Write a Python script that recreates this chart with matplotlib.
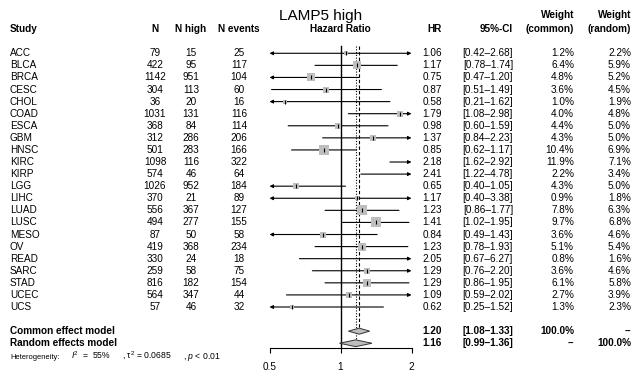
import numpy as np
import matplotlib
matplotlib.use("Agg")
import matplotlib.pyplot as plt
from matplotlib.patches import Polygon
from matplotlib.ticker import NullLocator
from matplotlib.transforms import blended_transform_factory

plt.rcParams["font.family"] = ["Liberation Sans", "DejaVu Sans"]
plt.rcParams["mathtext.fontset"] = "custom"
plt.rcParams["mathtext.rm"] = "Liberation Sans"
plt.rcParams["mathtext.it"] = "Liberation Sans:italic"

# --- dados ---
studies = ["ACC", "BLCA", "BRCA", "CESC", "CHOL", "COAD", "ESCA", "GBM", "HNSC", "KIRC", "KIRP",
           "LGG", "LIHC", "LUAD", "LUSC", "MESO", "OV", "READ", "SARC", "STAD", "UCEC", "UCS"]
n_total = [79, 422, 1142, 304, 36, 1031, 368, 312, 501, 1098, 574,
           1026, 370, 556, 494, 87, 419, 330, 259, 816, 564, 57]
n_high = [15, 95, 951, 113, 20, 131, 84, 286, 283, 116, 46,
          952, 21, 367, 277, 50, 368, 24, 58, 182, 347, 46]
n_events = [25, 117, 104, 60, 16, 116, 114, 206, 166, 322, 64,
            184, 89, 127, 155, 58, 234, 18, 75, 154, 44, 32]
hr = [1.06, 1.17, 0.75, 0.87, 0.58, 1.79, 0.98, 1.37, 0.85, 2.18, 2.41,
      0.65, 1.17, 1.23, 1.41, 0.84, 1.23, 2.05, 1.29, 1.29, 1.09, 0.62]
ci_low = [0.42, 0.78, 0.47, 0.51, 0.21, 1.08, 0.60, 0.84, 0.62, 1.62, 1.22,
          0.40, 0.40, 0.86, 1.02, 0.49, 0.78, 0.67, 0.76, 0.86, 0.59, 0.25]
ci_high = [2.68, 1.74, 1.20, 1.49, 1.62, 2.98, 1.59, 2.23, 1.17, 2.92, 4.78,
           1.05, 3.38, 1.77, 1.95, 1.43, 1.93, 6.27, 2.20, 1.95, 2.02, 1.52]
w_common = [1.2, 6.4, 4.8, 3.6, 1.0, 4.0, 4.4, 4.3, 10.4, 11.9, 2.2,
            4.3, 0.9, 7.8, 9.7, 3.6, 5.1, 0.8, 3.6, 6.1, 2.7, 1.3]
w_random = [2.2, 5.9, 5.2, 4.5, 1.9, 4.8, 5.0, 5.0, 6.9, 7.1, 3.4,
            5.0, 1.8, 6.3, 6.8, 4.6, 5.4, 1.6, 4.6, 5.8, 3.9, 2.3]

common_est, common_lo, common_hi = 1.20, 1.08, 1.33
random_est, random_lo, random_hi = 1.16, 0.99, 1.36
het_label = "Heterogeneity:"
het_parts = [r"$I^2$  =  55%", r", τ$^2$ = 0.0685", r", $p$ < 0.01"]

x_ticks = [0.5, 1, 2]
x_tick_labels = ["0.5", "1", "2"]

# --- layout ---
W, H = 634, 372
XMIN, XMAX = 0.5, 2
FS = 7.2
CINZA = "#bebebe"

fig = plt.figure(figsize=(W / 100, H / 100), dpi=100)
ax = fig.add_axes([269.5 / W, 0, 142 / W, 1])
ax.set_xscale("log")
ax.set_xlim(XMIN, XMAX)
ax.set_ylim(26.38, -4.41)
ax.patch.set_alpha(0)
for s in ["top", "right", "left"]:
    ax.spines[s].set_visible(False)
ax.set_yticks([])

n = len(studies)
rows = np.arange(n)
row_common = n + 1
row_random = n + 2
row_het = n + 3
row_axis = n + 2.42

# eixo inferior
ax.spines["bottom"].set_position(("data", row_axis))
ax.spines["bottom"].set_bounds(XMIN, XMAX)
ax.spines["bottom"].set_linewidth(0.8)
ax.set_xticks(x_ticks, labels=x_tick_labels)
ax.xaxis.set_minor_locator(NullLocator())
ax.tick_params(axis="x", direction="out", length=3.6, width=0.8, pad=6.5, labelsize=FS)

# linhas verticais de referência
top = -0.6
ax.plot([1, 1], [top, row_axis], color="black", lw=1.0, zorder=1)
ax.plot([common_est] * 2, [top, row_common - 0.25], color="black", lw=0.8,
        ls=(0, (3, 2)), zorder=1)
ax.plot([random_est] * 2, [top, row_random - 0.28], color="black", lw=0.8,
        ls=(0, (1, 1.5)), zorder=1)

# intervalos de confiança, quadrados
for i in range(n):
    y = rows[i]
    lo = max(ci_low[i], XMIN)
    hi = min(ci_high[i], XMAX)
    left_cut = ci_low[i] < XMIN
    right_cut = ci_high[i] > XMAX
    if left_cut and right_cut:
        style = "<|-|>"
    elif left_cut:
        style = "<|-"
    elif right_cut:
        style = "-|>"
    else:
        style = "-"
    ax.annotate("", xy=(hi, y), xytext=(lo, y),
                arrowprops=dict(arrowstyle=style, color="black", lw=0.8,
                                mutation_scale=5, shrinkA=0, shrinkB=0))
    if XMIN <= hr[i] <= XMAX:
        side_pt = 3.3 * np.sqrt(w_common[i]) * 0.72
        ax.scatter([hr[i]], [y], marker="s", s=side_pt ** 2, color=CINZA,
                   linewidths=0, zorder=3)
        ax.plot([hr[i]], [y], marker="|", ms=2.5, mew=0.8, color="black", zorder=4)

# losangos
for est, lo, hi, y, h in [(common_est, common_lo, common_hi, row_common, 0.25),
                          (random_est, random_lo, random_hi, row_random, 0.28)]:
    ax.add_patch(Polygon([(lo, y), (est, y - h), (hi, y), (est, y + h)], closed=True,
                         facecolor=CINZA, edgecolor="#333333", lw=0.7, zorder=3))

# --- colunas de texto ---
tr = blended_transform_factory(fig.transFigure, ax.transData)


def txt(x, y, s, ha="left", bold=False, size=FS, va="center"):
    ax.text(x / W, y, s, transform=tr, ha=ha, va=va, fontsize=size,
            fontweight="bold" if bold else "normal")


hdr = -2
txt(10, hdr, "Study", bold=True)
txt(155, hdr, "N", ha="center", bold=True)
txt(191, hdr, "N high", ha="center", bold=True)
txt(239, hdr, "N events", ha="center", bold=True)
txt(340.5, hdr, "Hazard Ratio", ha="center", bold=True)
txt(442, hdr, "HR", ha="right", bold=True)
txt(513, hdr, "95%-CI", ha="right", bold=True)
txt(574, hdr - 1.15, "Weight", ha="right", bold=True)
txt(574, hdr, "(common)", ha="right", bold=True)
txt(631, hdr - 1.15, "Weight", ha="right", bold=True)
txt(631, hdr, "(random)", ha="right", bold=True)
txt(321, -3.05, "LAMP5 high", ha="center", size=11)

for i in range(n):
    y = rows[i]
    txt(10, y, studies[i])
    txt(155, y, str(n_total[i]), ha="center")
    txt(191, y, str(n_high[i]), ha="center")
    txt(239, y, str(n_events[i]), ha="center")
    txt(442, y, f"{hr[i]:.2f}", ha="right")
    txt(513, y, f"[{ci_low[i]:.2f}–{ci_high[i]:.2f}]", ha="right")
    txt(574, y, f"{w_common[i]:.1f}%", ha="right")
    txt(631, y, f"{w_random[i]:.1f}%", ha="right")

txt(10, row_common, "Common effect model", bold=True)
txt(442, row_common, f"{common_est:.2f}", ha="right", bold=True)
txt(513, row_common, f"[{common_lo:.2f}–{common_hi:.2f}]", ha="right", bold=True)
txt(574, row_common, "100.0%", ha="right", bold=True)
txt(631, row_common, "--", ha="right", bold=True)

txt(10, row_random, "Random effects model", bold=True)
txt(442, row_random, f"{random_est:.2f}", ha="right", bold=True)
txt(513, row_random, f"[{random_lo:.2f}–{random_hi:.2f}]", ha="right", bold=True)
txt(574, row_random, "--", ha="right", bold=True)
txt(631, row_random, "100.0%", ha="right", bold=True)

# heterogeneidade, em pedaços espaçados como no original
txt(10, row_het + 0.3, het_label, size=5.4, va="baseline")
for x, part in zip([71, 122, 183], het_parts):
    txt(x, row_het + 0.3, part, size=6.2, va="baseline")

fig.savefig("out.png", dpi=100)
plt.close(fig)
